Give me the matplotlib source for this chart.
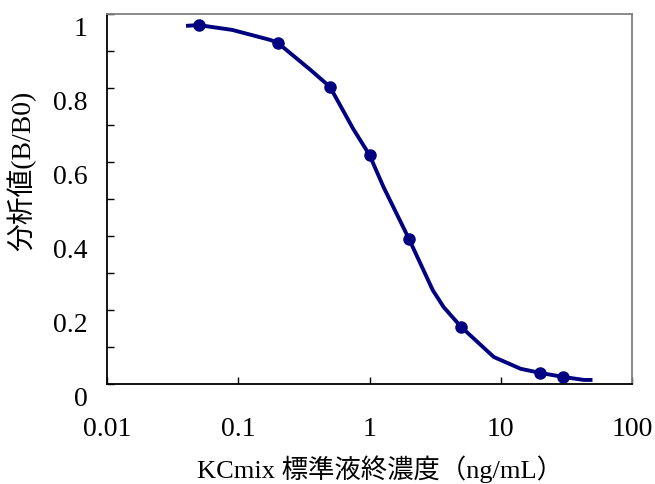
import matplotlib.pyplot as plt
import matplotlib.transforms as mtransforms
from matplotlib.ticker import NullLocator

# fonts: serif digits, CJK fallback
plt.rcParams['font.family'] = ['Liberation Serif', 'Noto Sans CJK JP']

# measured points
conc = [0.05, 0.2, 0.5, 1, 2, 5, 20, 30]
ratio = [0.970, 0.922, 0.803, 0.619, 0.392, 0.154, 0.030, 0.019]

# fitted curve
curve_x = [0.04, 0.05, 0.09, 0.175, 0.2, 0.355, 0.5, 0.75, 1, 1.28, 2, 3.03, 3.67, 5, 8.85, 14.2, 20, 30, 43, 50]
curve_y = [0.968, 0.970, 0.957, 0.930, 0.922, 0.849, 0.803, 0.690, 0.619, 0.532, 0.392, 0.254, 0.208, 0.154, 0.073, 0.041, 0.030, 0.019, 0.011, 0.011]

xticks = [0.01, 0.1, 1, 10, 100]
xtick_labels = ['0.01', '0.1', '1', '10', '100']
yticks = [0, 0.2, 0.4, 0.6, 0.8, 1.0]
ytick_labels = ['0', '0.2', '0.4', '0.6', '0.8', '1']

navy = '#000080'

fig = plt.figure(figsize=(6.55, 4.84), dpi=100)
ax = fig.add_axes([107/655, 1 - 384/484, (632 - 107)/655, (384 - 14)/484])

ax.plot(curve_x, curve_y, color=navy, lw=2.8, solid_capstyle='butt')
ax.plot(conc, ratio, 'o', color=navy, markersize=8)

ax.set_xscale('log')
ax.set_xlim(0.01, 100)
ax.set_ylim(0, 1)

ax.set_xticks(xticks)
ax.set_xticklabels(xtick_labels)
ax.xaxis.set_minor_locator(NullLocator())
ax.set_yticks(yticks)
ax.set_yticklabels(ytick_labels)
ax.set_yticks([0.1, 0.3, 0.5, 0.7, 0.9], minor=True)

ax.tick_params(axis='both', which='both', direction='in', length=5, width=1, labelsize=20)
ax.tick_params(axis='x', pad=24)
ax.tick_params(axis='y', pad=14)

# tick labels sit a little below their ticks
shift = mtransforms.ScaledTranslation(0, -13/100, fig.dpi_scale_trans)
for lab in ax.get_yticklabels():
    lab.set_transform(lab.get_transform() + shift)

for s in ['left', 'bottom']:
    ax.spines[s].set_linewidth(1.3)
    ax.spines[s].set_color('black')
for s in ['top', 'right']:
    ax.spines[s].set_linewidth(1.3)
    ax.spines[s].set_color('#808080')

fig.text(22/655, 1 - 171/484, '分析値(B/B0)', rotation=90, ha='center', va='center', fontsize=20)
fig.text(380/655, 1 - 469/484, 'KCmix 標準液終濃度（ng/mL）', ha='center', va='center', fontsize=19)

fig.savefig('out.png', dpi=100)
